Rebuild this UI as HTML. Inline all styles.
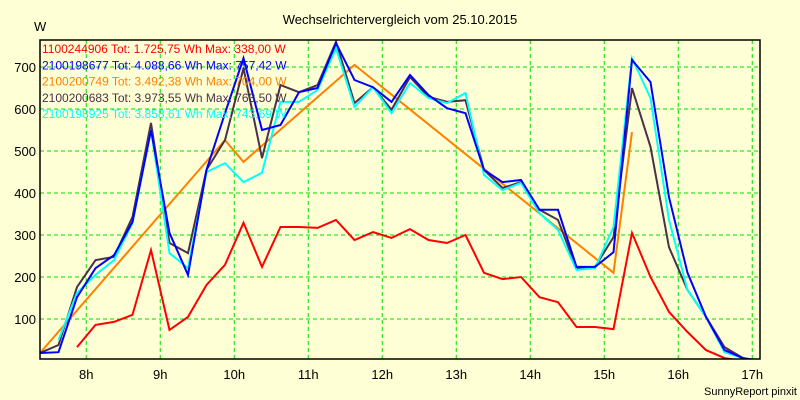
<!DOCTYPE html>
<html><head><meta charset="utf-8"><style>
body{margin:0;background:#ffffd6;}
svg{display:block;font-family:"Liberation Sans",sans-serif;}
</style></head><body>
<svg id="chart" width="800" height="400" viewBox="0 0 800 400">
<rect x="0" y="0" width="800" height="400" fill="#ffffd6"/>
<text x="400" y="24" text-anchor="middle" font-size="13" fill="#000">Wechselrichtervergleich vom 25.10.2015</text>
<text x="34" y="31" font-size="13" fill="#000">W</text>
<text x="797" y="395" text-anchor="end" font-size="11" fill="#000">SunnyReport pinxit</text>
<defs><clipPath id="pc"><rect x="40" y="40" width="720" height="319"/></clipPath></defs>
<g id="grid"></g>
<g id="series" clip-path="url(#pc)"></g>
<rect x="40" y="40" width="720" height="319" fill="none" stroke="#000" stroke-width="1.5"/>
<g id="legend"></g>
<g id="axes"></g>
</svg>
<script>
const yTicks=[100,200,300,400,500,600,700];
const xTickHours=[8,9,10,11,12,13,14,15,16,17];
const xTickLabels=["8h","9h","10h","11h","12h","13h","14h","15h","16h","17h"];
const startHour=7.375, stepHour=0.25;
const red=[null,null,33,86,93,110,264,74,105,181,229,329,224,319,319,317,336,288,307,293,314,288,281,300,210,195,200,152,140,81,81,76,305,200,117,69,26,7,0,null];
const blue=[19,21,152,221,252,331,550,305,205,455,590,721,550,562,640,650,757,669,652,617,681,633,602,590,455,426,431,360,360,224,224,259,717,664,390,210,105,26,7,0];
const orange=[19,null,null,null,null,null,null,null,null,null,526,474,null,null,null,null,null,705,null,null,null,null,null,null,null,null,null,null,null,null,null,210,545,null,null,null,null,null,null,null];
const dark=[19,38,176,240,248,343,567,281,257,455,526,697,483,657,640,657,760,614,652,598,676,629,617,621,455,412,426,360,336,221,224,295,650,510,271,169,105,33,7,0];
const cyan=[null,50,162,205,240,329,550,257,221,450,471,426,448,617,617,645,745,605,652,590,662,626,614,638,443,407,424,352,312,217,221,319,721,626,336,169,105,21,7,0];
const legendLabels=["1100244906 Tot: 1.725,75 Wh Max: 338,00 W","2100198677 Tot: 4.088,66 Wh Max: 757,42 W","2100200749 Tot: 3.492,38 Wh Max: 704,00 W","2100200683 Tot: 3.973,55 Wh Max: 763,50 W","2100198925 Tot: 3.858,61 Wh Max: 743,69 W"];
const NS="http://www.w3.org/2000/svg";
const xs=h=>40+(h-7.375)*74;
const ys=v=>361-v*0.42;
const grid=document.getElementById('grid'),axes=document.getElementById('axes');
yTicks.forEach(v=>{
 const l=document.createElementNS(NS,'line');
 l.setAttribute('x1',40);l.setAttribute('x2',760);l.setAttribute('y1',ys(v));l.setAttribute('y2',ys(v));
 l.setAttribute('stroke','#00dd00');l.setAttribute('stroke-dasharray','4,3');
 
 
 grid.appendChild(l);
 const t=document.createElementNS(NS,'text');
 t.setAttribute('x',36);t.setAttribute('y',ys(v)+5);t.setAttribute('text-anchor','end');t.setAttribute('font-size','13');
 t.textContent=v;
 
 
 axes.appendChild(t);
});
xTickHours.forEach((h,i)=>{
 const l=document.createElementNS(NS,'line');
 l.setAttribute('x1',xs(h));l.setAttribute('x2',xs(h));l.setAttribute('y1',40);l.setAttribute('y2',359);
 l.setAttribute('stroke','#00dd00');l.setAttribute('stroke-dasharray','4,3');
 
 
 grid.appendChild(l);
 const t=document.createElementNS(NS,'text');
 t.setAttribute('x',xs(h));t.setAttribute('y',379);t.setAttribute('text-anchor','middle');t.setAttribute('font-size','13');
 t.textContent=xTickLabels[i];
 
 
 axes.appendChild(t);
});
const seriesList=[[red,'#ff0000','series-1100244906'],[orange,'#ff8000','series-2100200749'],[dark,'#4a3048','series-2100200683'],[cyan,'#00ffff','series-2100198925'],[blue,'#0000ff','series-2100198677']];
const sg=document.getElementById('series');
seriesList.forEach(([arr,col,name])=>{
 const pts=[];
 arr.forEach((v,i)=>{if(v!==null)pts.push(xs(startHour+i*stepHour).toFixed(1)+','+ys(v).toFixed(1));});
 const p=document.createElementNS(NS,'polyline');
 p.setAttribute('points',pts.join(' '));p.setAttribute('fill','none');p.setAttribute('stroke',col);p.setAttribute('stroke-width','2');
 
 
 sg.appendChild(p);
});
// blue drawn before cyan in original? keep order; legend
const legendColors=['#ff0000','#0000ff','#ff8000','#4a3048','#00ffff'];
const lg=document.getElementById('legend');
legendLabels.forEach((s,i)=>{
 const t=document.createElementNS(NS,'text');
 t.setAttribute('x',42);t.setAttribute('y',53+i*16.3);t.setAttribute('font-size','12');t.setAttribute('fill',legendColors[i]);
 t.textContent=s;
 
 
 lg.appendChild(t);
});
</script>
</body></html>
